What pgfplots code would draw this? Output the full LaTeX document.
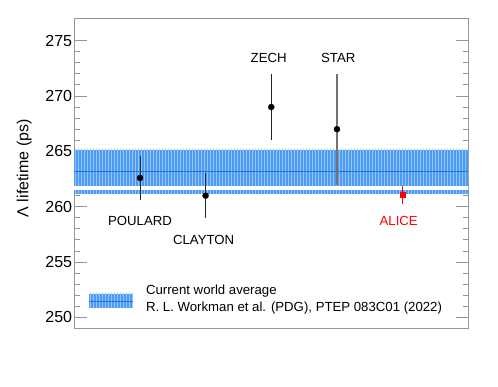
\documentclass[border=0pt]{standalone}
\usepackage{fontspec}
\setmainfont{Liberation Sans}
\usepackage{pgfplots}
\pgfplotsset{compat=1.18}
\usetikzlibrary{patterns}
\definecolor{bandblue}{RGB}{75,155,245}
\definecolor{bandlight}{RGB}{150,198,252}
\definecolor{bandline}{RGB}{30,115,225}
\definecolor{framegray}{RGB}{150,150,150}
\begin{document}
\begin{tikzpicture}
\path (0pt,0pt) rectangle (498pt,387pt);
\begin{axis}[
  at={(74.3pt,58.5pt)}, anchor=south west,
  scale only axis, width=394pt, height=310pt,
  xmin=0, xmax=6, ymin=249, ymax=277,
  axis line style={framegray, line width=0.9pt},
  xtick=\empty,
  minor xtick={0,0.25,...,6},
  ytick={250,255,...,275},
  minor y tick num=4,
  tick style={framegray, line width=0.9pt},
  major tick length=12.5pt, minor tick length=5.5pt,
  tick align=inside,
  /pgf/number format/assume math mode=true,
  yticklabel style={font=\fontsize{16}{18}\selectfont, inner sep=0pt, xshift=-2pt},
  ylabel={Λ lifetime (ps)},
  every axis y label/.style={at={(axis description cs:-0.127,0.517)}, rotate=90, anchor=center, font=\fontsize{16}{18}\selectfont},
  clip=false,
]
% world average band
\addplot[draw=none, fill=bandblue] coordinates {(0,261.15) (6,261.15) (6,265.15) (0,265.15)} -- cycle;
\addplot[draw=none, pattern=vertical lines, pattern color=bandlight] coordinates {(0,261.15) (6,261.15) (6,265.15) (0,265.15)} -- cycle;
\addplot[draw=none, fill=white] coordinates {(0,261.52) (6,261.52) (6,261.86) (0,261.86)} -- cycle;
\addplot[bandline, line width=1pt] coordinates {(0,263.17) (6,263.17)};
% legend box
\addplot[draw=none, fill=bandblue] coordinates {(0.224,250.87) (0.894,250.87) (0.894,252.15) (0.224,252.15)} -- cycle;
\addplot[draw=none, pattern=vertical lines, pattern color=bandlight] coordinates {(0.224,250.87) (0.894,250.87) (0.894,252.15) (0.224,252.15)} -- cycle;
\addplot[bandline, line width=0.8pt] coordinates {(0.224,251.45) (0.894,251.45)};
% measurements
\addplot[only marks, mark=*, mark size=3pt, black,
  error bars/.cd, y dir=both, y explicit, error bar style={black!85, line width=0.8pt}, error mark=none]
  coordinates {(1,262.6) +- (0,2.0) (2,261.0) +- (0,2.0) (3,269.0) +- (0,3.0)};
\addplot[only marks, mark=*, mark size=3pt, black,
  error bars/.cd, y dir=both, y explicit, error bar style={black!55, line width=1.1pt}, error mark=none]
  coordinates {(4,267.0) +- (0,5.0)};
\addplot[only marks, mark=square*, mark size=2.8pt, red,
  error bars/.cd, y dir=both, y explicit, error bar style={red, line width=0.8pt}, error mark=none]
  coordinates {(5,261.07) +- (0,0.8)};
% labels
\node[font=\fontsize{13.2}{15}\selectfont] at (axis cs:1.0,258.75) {POULARD};
\node[font=\fontsize{13.2}{15}\selectfont] at (axis cs:1.97,257.0) {CLAYTON};
\node[font=\fontsize{13.2}{15}\selectfont] at (axis cs:2.96,273.45) {ZECH};
\node[font=\fontsize{13.2}{15}\selectfont] at (axis cs:4.02,273.45) {STAR};
\node[font=\fontsize{13.2}{15}\selectfont, red] at (axis cs:4.94,258.7) {ALICE};
\node[font=\fontsize{13.2}{15}\selectfont, anchor=west, inner sep=0pt] at (axis cs:1.09,252.35) {Current world average};
\node[font=\fontsize{13.2}{15}\selectfont, anchor=west, inner sep=0pt] at (axis cs:1.09,250.8) {R. L. Workman et al. (PDG), PTEP 083C01 (2022)};
\end{axis}
\end{tikzpicture}
\end{document}
